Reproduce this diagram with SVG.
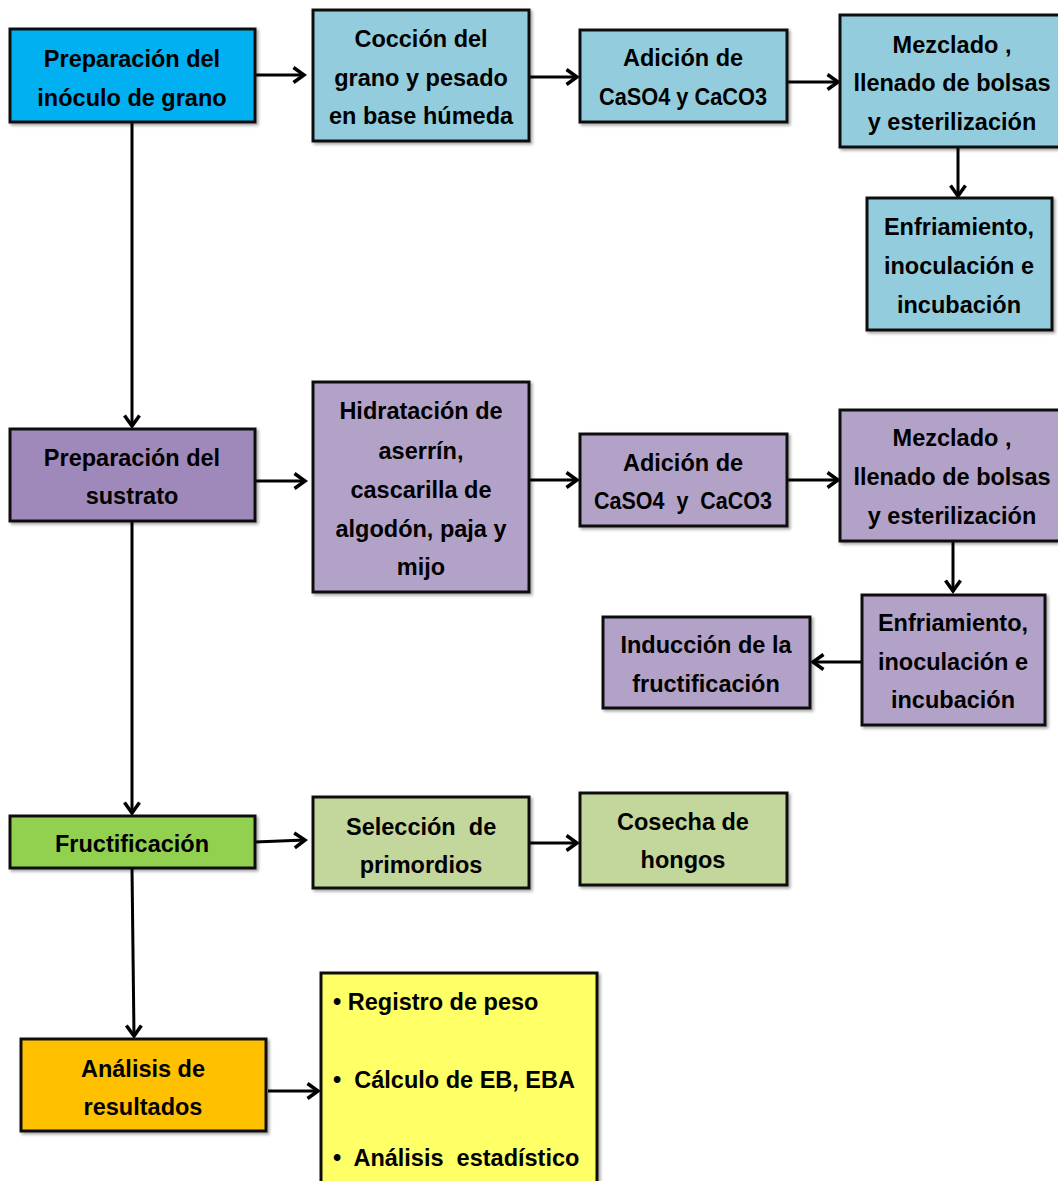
<svg xmlns="http://www.w3.org/2000/svg" width="1058" height="1181" viewBox="0 0 1058 1181">
<style>
.box{stroke:#111;stroke-width:3;filter:url(#sh)}
.t{font-family:"Liberation Sans",Arial,sans-serif;font-weight:bold;font-size:23.5px;fill:#000;text-anchor:middle}
.l{text-anchor:start;white-space:pre}
.c{fill:none;stroke:#000;stroke-width:3;marker-end:url(#ah)}
.blue{fill:#00b0f0}.lblue{fill:#93cddd}.purple{fill:#9f89ba}.lpurple{fill:#b3a2c7}.green{fill:#92d050}.lgreen{fill:#c3d69b}.orange{fill:#ffc000}.yellow{fill:#ffff66}
</style>
<defs>
<filter id="sh" x="-10%" y="-10%" width="130%" height="130%"><feDropShadow dx="2" dy="2" stdDeviation="1.5" flood-color="#000" flood-opacity="0.35"/></filter>
<marker id="ah" markerUnits="userSpaceOnUse" markerWidth="18" markerHeight="20" refX="12" refY="9" orient="auto"><path d="M1.5,1.5 L12,9 L1.5,16.5" fill="none" stroke="#000" stroke-width="3.5"/></marker>
</defs>
<rect width="1058" height="1181" fill="#fff"/>
<g id="connectors">
<path class="c" d="M255,75 H304"/>
<path class="c" d="M529,77 H577"/>
<path class="c" d="M787,82 H838"/>
<path class="c" d="M958,147 V196"/>
<path class="c" d="M132,122 V426"/>
<path class="c" d="M255,481 H305"/>
<path class="c" d="M529,480 H577"/>
<path class="c" d="M787,480 H838"/>
<path class="c" d="M953,541 V591"/>
<path class="c" d="M862,662 H813"/>
<path class="c" d="M132,521 V813"/>
<path class="c" d="M255,842 L305,840"/>
<path class="c" d="M529,843 H577"/>
<path class="c" d="M132,868 L134,1036"/>
<path class="c" d="M268,1091 H318"/>
</g>
<g id="n1"><rect class="box blue" x="10" y="29" width="245" height="93"/><text class="t" x="132" y="67">Preparación del</text><text class="t" x="132" y="106">inóculo de grano</text></g>
<g id="n2"><rect class="box lblue" x="313" y="10" width="216" height="131"/><text class="t" x="421" y="47">Cocción del</text><text class="t" x="421" y="86">grano y pesado</text><text class="t" x="421" y="124">en base húmeda</text></g>
<g id="n3"><rect class="box lblue" x="580" y="30" width="207" height="92"/><text class="t" x="683" y="66">Adición de</text><text class="t" x="683" y="105" textLength="168" lengthAdjust="spacingAndGlyphs">CaSO4 y CaCO3</text></g>
<g id="n4"><rect class="box lblue" x="840" y="15" width="230" height="132"/><text class="t" x="952" y="53">Mezclado ,</text><text class="t" x="952" y="91">llenado de bolsas</text><text class="t" x="952" y="130">y esterilización</text></g>
<g id="n5"><rect class="box lblue" x="867" y="198" width="185" height="132"/><text class="t" x="959" y="235">Enfriamiento,</text><text class="t" x="959" y="274">inoculación e</text><text class="t" x="959" y="313">incubación</text></g>
<g id="n6"><rect class="box purple" x="10" y="429" width="245" height="92"/><text class="t" x="132" y="466">Preparación del</text><text class="t" x="132" y="504">sustrato</text></g>
<g id="n7"><rect class="box lpurple" x="313" y="382" width="216" height="210"/><text class="t" x="421" y="419">Hidratación de</text><text class="t" x="421" y="459">aserrín,</text><text class="t" x="421" y="498">cascarilla de</text><text class="t" x="421" y="537">algodón, paja y</text><text class="t" x="421" y="575">mijo</text></g>
<g id="n8"><rect class="box lpurple" x="580" y="434" width="207" height="92"/><text class="t" x="683" y="471">Adición de</text><text class="t" x="683" y="509" style="white-space:pre" textLength="178" lengthAdjust="spacingAndGlyphs">CaSO4  y  CaCO3</text></g>
<g id="n9"><rect class="box lpurple" x="840" y="410" width="230" height="131"/><text class="t" x="952" y="446">Mezclado ,</text><text class="t" x="952" y="485">llenado de bolsas</text><text class="t" x="952" y="524">y esterilización</text></g>
<g id="n10"><rect class="box lpurple" x="862" y="595" width="183" height="130"/><text class="t" x="953" y="631">Enfriamiento,</text><text class="t" x="953" y="670">inoculación e</text><text class="t" x="953" y="708">incubación</text></g>
<g id="n11"><rect class="box lpurple" x="603" y="617" width="207" height="91"/><text class="t" x="706" y="653">Inducción de la</text><text class="t" x="706" y="692">fructificación</text></g>
<g id="n12"><rect class="box green" x="10" y="816" width="245" height="52"/><text class="t" x="132" y="852">Fructificación</text></g>
<g id="n13"><rect class="box lgreen" x="313" y="797" width="216" height="91"/><text class="t l" x="346" y="835">Selección  de</text><text class="t" x="421" y="873">primordios</text></g>
<g id="n14"><rect class="box lgreen" x="580" y="793" width="207" height="92"/><text class="t" x="683" y="830">Cosecha de</text><text class="t" x="683" y="868">hongos</text></g>
<g id="n15"><rect class="box orange" x="21" y="1039" width="245" height="92"/><text class="t" x="143" y="1077">Análisis de</text><text class="t" x="143" y="1115">resultados</text></g>
<g id="n16"><rect class="box yellow" x="321" y="973" width="276" height="220"/><text class="t l" x="333" y="1010">• Registro de peso</text><text class="t l" x="333" y="1088">•  Cálculo de EB, EBA</text><text class="t l" x="333" y="1166">•  Análisis  estadístico</text></g>
</svg>
